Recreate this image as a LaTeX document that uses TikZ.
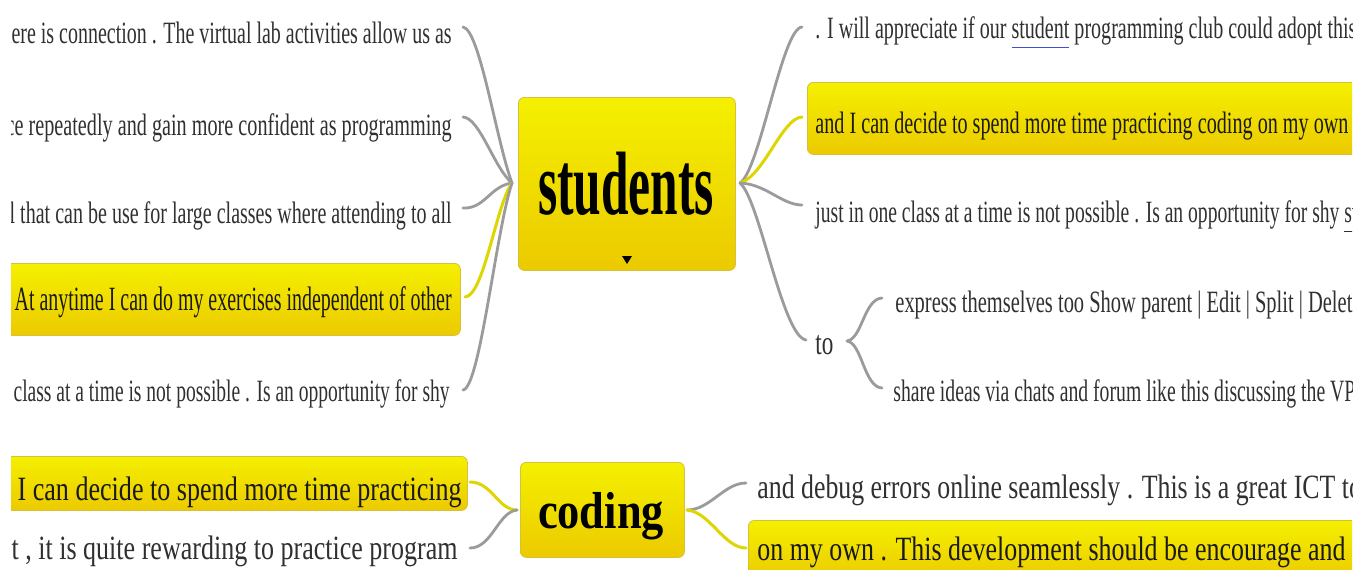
\documentclass[tikz,border=0pt]{standalone}
\usepackage{fontspec}
\setmainfont{Liberation Serif}
\usepackage{graphicx}
\definecolor{txt}{RGB}{48,48,48}
\definecolor{hltxt}{RGB}{25,25,25}
\definecolor{ytop}{RGB}{244,240,0}
\definecolor{ybot}{RGB}{236,202,0}
\definecolor{yedge}{RGB}{215,192,60}
\definecolor{conn}{RGB}{155,155,155}
\definecolor{yconn}{RGB}{222,214,0}
\definecolor{ulink}{RGB}{60,80,215}
\newlength\pxu
\setlength\pxu{0.5pt}
\newcommand{\fw}[2]{\resizebox{#1\pxu}{\height}{#2}}
\newcommand{\blueul}[1]{\rlap{\color{ulink}\underline{\phantom{#1}\vphantom{gy}}}#1}
\newcommand{\grayul}[1]{\rlap{\color{txt}\underline{\phantom{#1}\vphantom{gy}}}#1}
\begin{document}
\begin{tikzpicture}[x=0.5pt,y=-0.5pt,
  basetxt/.style={inner sep=0pt,text=txt,font=\fontsize{15.5}{17}\selectfont},
  ltxt/.style={basetxt,anchor=base east},
  rtxt/.style={basetxt,anchor=base west},
  hl/.style={text=hltxt},
  big/.style={font=\fontsize{17}{19}\selectfont},
  ybox/.style={draw=yedge,line width=0.4pt,rounded corners=3pt,top color=ytop,bottom color=ybot,inner sep=0pt,anchor=north west},
  gconn/.style={draw=conn,line width=1.4pt,line cap=round},
  yconnst/.style={draw=yconn,line width=1.5pt,line cap=round},
  mainlbl/.style={inner sep=0pt,anchor=base,text=black}
]
\useasboundingbox (0,0) rectangle (1368,569);
\fill[white] (0,0) rectangle (1368,569);
\begin{scope}
\clip (11,0) rectangle (1352,569);

% highlight boxes
\node[ybox,minimum width=227.5pt,minimum height=36pt] (bL4) at (5,263) {};
\node[ybox,minimum width=276.5pt,minimum height=36pt] (bR2) at (807,82) {};
\node[ybox,minimum width=231pt,minimum height=27pt] (bB1) at (5,456) {};
\node[ybox,minimum width=306pt,minimum height=30pt] (bB4) at (748,520) {};

% central nodes
\node[ybox,minimum width=108.5pt,minimum height=86.5pt] (stu) at (518,97) {};
\node[mainlbl,font=\bfseries\fontsize{45}{50}\selectfont] (stuT) at (626,214) {\fw{176}{students}};
\fill[black] (622,256) -- (632,256) -- (627,264) -- cycle;
\node[ybox,minimum width=82pt,minimum height=47.5pt] (cod) at (520,462) {};
\node[mainlbl,font=\bfseries\fontsize{26}{28}\selectfont] (codT) at (601,528) {\fw{126}{coding}};

% hub coordinates
\coordinate (hubL) at (512,183);
\coordinate (hubR) at (740,183);
\coordinate (cL) at (517,510);
\coordinate (cR) at (687,510);
\coordinate (toR) at (847,341);

% left texts
\node[ltxt] (L1) at (452,43) {\fw{450}{here is connection . The virtual lab activities allow us as}};
\node[ltxt] (L2) at (452,135) {\fw{446}{ce repeatedly and gain more confident as programming}};
\node[ltxt] (L3) at (452,223) {\fw{442}{l that can be use for large classes where attending to all}};
\node[ltxt,hl,big] (L4) at (452,310) {\fw{437}{At anytime I can do my exercises independent of other}};
\node[ltxt] (L5) at (450,401) {\fw{436}{class at a time is not possible . Is an opportunity for shy}};

% right texts
\node[rtxt] (R1) at (815,38) {\fw{541}{. I will appreciate if our \blueul{student} programming club could adopt this}};
\node[rtxt,hl] (R2) at (815,133) {\fw{533}{and I can decide to spend more time practicing coding on my own}};
\node[rtxt] (R3) at (815,222) {\fw{524}{just in one class at a time is not possible . Is an opportunity for shy\rlap{ \grayul{students}}}};
\node[rtxt,big] (to) at (815,354) {\fw{18}{to}};
\node[rtxt] (E1) at (895,312) {\fw{457}{express themselves too Show parent | Edit | Split | Delet\rlap{e}}};
\node[rtxt] (E2) at (893,401) {\fw{451}{share ideas via chats and forum like this discussing the V\rlap{PL}}};

% bottom texts
\node[ltxt,hl,big] (B1) at (462,500) {\fw{444}{I can decide to spend more time practicing}};
\node[ltxt,big] (B2) at (458,559) {\fw{446}{t , it is quite rewarding to practice program}};
\node[rtxt,big] (B3) at (757,498) {\fw{578}{and debug errors online seamlessly . This is a great ICT\rlap{ tool}}};
\node[rtxt,hl,big] (B4) at (757,560) {\fw{588}{on my own . This development should be encourage and}};

% connector end points
\coordinate (eL1) at (463,27);
\coordinate (eL2) at (463,117);
\coordinate (eL3) at (463,208);
\coordinate (eL4) at (465,297);
\coordinate (eL5) at (463,390);
\coordinate (eR1) at (802,27);
\coordinate (eR2) at (802,117);
\coordinate (eR3) at (802,205);
\coordinate (eR4) at (806,340);
\coordinate (eE1) at (882,298);
\coordinate (eE2) at (882,388);
\coordinate (eB1) at (470,482);
\coordinate (eB2) at (470,548);
\coordinate (eB3) at (746,483);
\coordinate (eB4) at (746,548);

% connectors students left
\draw[gconn] (eL1) .. controls (480,30) and (496,140) .. (hubL);
\draw[gconn] (eL2) .. controls (480,118) and (494,168) .. (hubL);
\draw[gconn] (eL3) .. controls (485,209) and (490,186) .. (hubL);
\draw[yconnst] (eL4) .. controls (484,296) and (496,205) .. (hubL);
\draw[gconn] (eL5) .. controls (480,388) and (496,230) .. (hubL);
% connectors students right
\draw[gconn] (hubR) .. controls (760,170) and (782,28) .. (eR1);
\draw[yconnst] (hubR) .. controls (764,176) and (782,118) .. (eR2);
\draw[gconn] (hubR) .. controls (766,184) and (782,205) .. (eR3);
\draw[gconn] (hubR) .. controls (760,200) and (782,336) .. (eR4);
% to braces
\draw[gconn] (toR) .. controls (862,339) and (864,299) .. (eE1);
\draw[gconn] (toR) .. controls (862,343) and (864,387) .. (eE2);
% coding connectors
\draw[yconnst] (eB1) .. controls (492,482) and (498,510) .. (cL);
\draw[gconn] (eB2) .. controls (492,548) and (498,512) .. (cL);
\draw[gconn] (cR) .. controls (710,510) and (724,483) .. (eB3);
\draw[yconnst] (cR) .. controls (710,512) and (724,548) .. (eB4);
\end{scope}
\end{tikzpicture}
\end{document}
